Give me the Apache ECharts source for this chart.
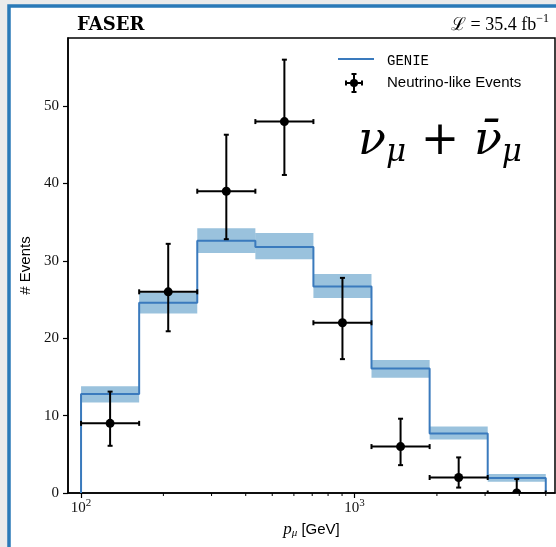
<!DOCTYPE html>
<html>
<head>
<meta charset="utf-8">
<title>FASER numu spectrum</title>
<script src="https://cdn.jsdelivr.net/npm/echarts@6/dist/echarts.min.js"></script>
<style>
    html, body { margin: 0; padding: 0; background: #ebebeb; }
    #chart { width: 556px; height: 547px; }
</style>
</head>
<body>
<div id="chart"></div>
<script>
// 8 log-spaced bins, 100 GeV .. 5000 GeV
const binEdges = [100, 163.1, 266.0, 433.8, 707.1, 1153, 1881, 3067, 5000];
// GENIE prediction and its band
const genieValues = [12.8, 24.6, 32.6, 31.8, 26.7, 16.1, 7.7, 1.95];
const genieLow = [11.7, 23.2, 31.0, 30.2, 25.2, 14.9, 6.9, 1.45];
const genieHigh = [13.8, 25.9, 34.2, 33.6, 28.3, 17.2, 8.6, 2.45];
// neutrino-like events, asymmetric errors
const dataCounts = [9, 26, 39, 48, 22, 6, 2, 0];
const dataLow = [6.1, 20.9, 32.8, 41.1, 17.3, 3.6, 0.7, 0];
const dataHigh = [13.1, 32.2, 46.3, 56.0, 27.8, 9.6, 4.6, 1.8];
// ticks
const yTicks = [0, 10, 20, 30, 40, 50];
const xMajorTicks = [100, 1000];
const xMinorTicks = [200, 300, 400, 500, 600, 700, 800, 900, 2000, 3000, 4000, 5000];

const lineColor = '#3a7abd';
const bandColor = 'rgba(31,119,180,0.45)';
const serif = '"Liberation Serif", "DejaVu Serif", serif';

let bandData = [];
let stepData = [[binEdges[0], 0]];
let pointData = [];
for (let i = 0; i < genieValues.length; i++) {
    let lo = binEdges[i], hi = binEdges[i + 1];
    bandData.push([lo, hi, genieLow[i], genieHigh[i]]);
    stepData.push([lo, genieValues[i]], [hi, genieValues[i]]);
    pointData.push([Math.sqrt(lo * hi), dataCounts[i], dataLow[i], dataHigh[i], lo, hi]);
}
stepData.push([binEdges[binEdges.length - 1], 0]);

function errorBar(cx, cy, x1, x2, y1, y2, cap, r) {
    const st = { stroke: '#000', lineWidth: 2 };
    return [
        { type: 'line', shape: { x1: cx, y1: y1, x2: cx, y2: y2 }, style: st },
        { type: 'line', shape: { x1: x1, y1: cy, x2: x2, y2: cy }, style: st },
        { type: 'line', shape: { x1: cx - cap, y1: y1, x2: cx + cap, y2: y1 }, style: st },
        { type: 'line', shape: { x1: cx - cap, y1: y2, x2: cx + cap, y2: y2 }, style: st },
        { type: 'line', shape: { x1: x1, y1: cy - cap, x2: x1, y2: cy + cap }, style: st },
        { type: 'line', shape: { x1: x2, y1: cy - cap, x2: x2, y2: cy + cap }, style: st },
        { type: 'circle', shape: { cx: cx, cy: cy, r: r }, style: { fill: '#000' } }
    ];
}

let chart = echarts.init(document.getElementById('chart'));
let option = {
    backgroundColor: '#ebebeb',
    animation: false,
    grid: {
        left: 68, top: 38, right: 1, bottom: 54,
        show: true, borderColor: '#000', borderWidth: 1.5
    },
    xAxis: {
        type: 'log', logBase: 10, min: 89.6, max: 5404,
        position: 'bottom',
        axisLine: { lineStyle: { color: '#000', width: 1.5 } },
        axisTick: { customValues: xMajorTicks, length: 5, lineStyle: { color: '#000', width: 1.2 } },
        axisLabel: {
            customValues: xMajorTicks,
            margin: 5,
            formatter: v => '{b|10}{s|' + Math.round(Math.log10(v)) + '}',
            rich: {
                b: { fontFamily: serif, fontSize: 15, color: '#111' },
                s: { fontFamily: serif, fontSize: 11, color: '#111', padding: [0, 0, 10, 0] }
            }
        },
        splitLine: { show: false },
        name: '{i|p}{s|μ}{t| [GeV]}',
        nameLocation: 'middle',
        nameGap: 24,
        nameTextStyle: {
            rich: {
                i: { fontFamily: serif, fontStyle: 'italic', fontSize: 17, color: '#000' },
                s: { fontFamily: serif, fontStyle: 'italic', fontSize: 11, color: '#000', padding: [8, 0, 0, 0] },
                t: { fontFamily: '"Liberation Sans", sans-serif', fontSize: 15, color: '#000' }
            }
        }
    },
    yAxis: {
        type: 'value', min: 0, max: 58.8, interval: 10,
        axisLine: { show: true, lineStyle: { color: '#000', width: 1.5 } },
        axisTick: { show: true, customValues: yTicks, length: 5, lineStyle: { color: '#000', width: 1.2 } },
        axisLabel: { customValues: yTicks, margin: 9, fontFamily: serif, fontSize: 15, color: '#111' },
        splitLine: { show: false },
        name: '# Events',
        nameLocation: 'middle',
        nameGap: 34,
        nameTextStyle: { fontFamily: '"Liberation Sans", sans-serif', fontSize: 15, color: '#000' }
    },
    series: [
        {
            name: 'GENIE band',
            type: 'custom',
            encode: { x: [0, 1], y: [2, 3] },
            data: bandData,
            renderItem: function (params, api) {
                let p1 = api.coord([api.value(0), api.value(3)]);
                let p2 = api.coord([api.value(1), api.value(2)]);
                return {
                    type: 'rect',
                    shape: { x: p1[0], y: p1[1], width: p2[0] - p1[0], height: p2[1] - p1[1] },
                    style: { fill: bandColor }
                };
            }
        },
        {
            name: 'GENIE',
            type: 'line',
            data: stepData,
            showSymbol: false,
            lineStyle: { color: lineColor, width: 2 },
            z: 3
        },
        {
            name: 'Neutrino-like Events',
            type: 'custom',
            clip: true,
            encode: { x: [0, 4, 5], y: [1, 2, 3] },
            data: pointData,
            z: 4,
            renderItem: function (params, api) {
                let c = api.coord([api.value(0), api.value(1)]);
                let lo = api.coord([api.value(0), api.value(2)]);
                let hi = api.coord([api.value(0), api.value(3)]);
                let l = api.coord([api.value(4), api.value(1)]);
                let r = api.coord([api.value(5), api.value(1)]);
                return { type: 'group', children: errorBar(c[0], c[1], l[0], r[0], hi[1], lo[1], 2.5, 4.5) };
            }
        },
        {
            // minor ticks of the log x axis
            name: 'minor ticks',
            type: 'custom',
            clip: false,
            silent: true,
            encode: { x: 0, y: 1 },
            data: xMinorTicks.map(v => [v, 0]),
            renderItem: function (params, api) {
                let p = api.coord([api.value(0), 0]);
                return {
                    type: 'line',
                    shape: { x1: p[0], y1: p[1], x2: p[0], y2: p[1] + 3 },
                    style: { stroke: '#000', lineWidth: 1 }
                };
            }
        }
    ],
    graphic: [
        {
            type: 'rect', z: -100,
            shape: { x: 9, y: 6, width: 600, height: 600 },
            style: { fill: '#fff', stroke: '#2a7ab8', lineWidth: 3.5 }
        },
        {
            type: 'text', x: 77, y: 25,
            style: { text: 'FASER', font: 'bold 18px "DejaVu Serif"', fill: '#000', verticalAlign: 'middle' }
        },
        {
            type: 'text', x: 549, y: 25,
            style: {
                text: '{a|ℒ = 35.4 fb}{s|−1}',
                align: 'right', verticalAlign: 'middle',
                rich: {
                    a: { fontFamily: serif, fontSize: 18, fill: '#000' },
                    s: { fontFamily: serif, fontSize: 12, fill: '#000', padding: [0, 0, 12, 0] }
                }
            }
        },
        {
            type: 'line',
            shape: { x1: 338, y1: 59, x2: 374, y2: 59 },
            style: { stroke: lineColor, lineWidth: 2 }
        },
        {
            type: 'text', x: 387, y: 61,
            style: { text: 'GENIE', font: '14px "Liberation Mono", monospace', fill: '#000', verticalAlign: 'middle' }
        },
        {
            type: 'group',
            children: errorBar(354, 83, 346, 362, 74, 92, 2.5, 4)
        },
        {
            type: 'text', x: 387, y: 83,
            style: { text: 'Neutrino-like Events', font: '15px "Liberation Sans", sans-serif', fill: '#000', verticalAlign: 'middle' }
        },
        {
            type: 'text', x: 358, y: 142,
            style: {
                text: '{n|ν}{s|μ}{p| + }{n|ν̄}{s|μ}',
                verticalAlign: 'middle',
                rich: {
                    n: { fontFamily: '"DejaVu Serif", serif', fontStyle: 'italic', fontSize: 46, fill: '#000' },
                    s: { fontFamily: '"DejaVu Serif", serif', fontStyle: 'italic', fontSize: 31, fill: '#000', padding: [22, 0, 0, 0] },
                    p: { fontFamily: '"DejaVu Serif", serif', fontSize: 46, fill: '#000' }
                }
            }
        }
    ]
};
chart.setOption(option);
window.onresize = () => chart.resize();
</script>
</body>
</html>
